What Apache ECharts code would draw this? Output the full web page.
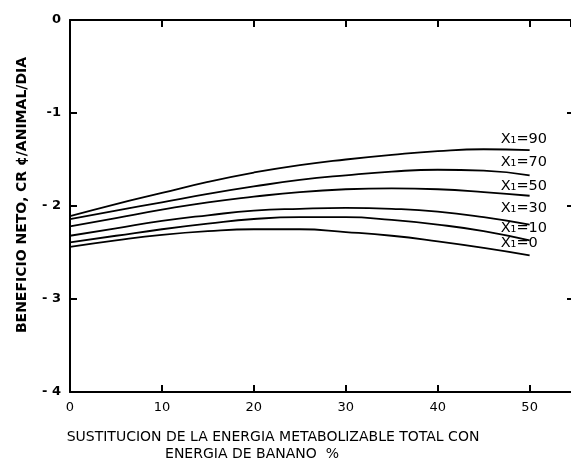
<!DOCTYPE html>
<html>
<head>
<meta charset="utf-8">
<script src="https://cdn.jsdelivr.net/npm/echarts@6/dist/echarts.min.js"></script>
<style>html,body{margin:0;padding:0;background:#fff;}#c{width:571px;height:459px;}</style>
</head>
<body>
<div id="c"></div>
<script>
// Substitution of total metabolizable energy with banana energy (%)
const xPct = [0, 5, 10, 15, 20, 25, 30, 35, 40, 45, 50];
// Net benefit, CR ¢/animal/day for each X1 level
const x1_90 = [-2.11, -1.98, -1.86, -1.74, -1.64, -1.56, -1.50, -1.45, -1.41, -1.39, -1.40];
const x1_70 = [-2.14, -2.05, -1.96, -1.87, -1.79, -1.72, -1.67, -1.63, -1.61, -1.62, -1.67];
const x1_50 = [-2.22, -2.13, -2.04, -1.96, -1.90, -1.85, -1.82, -1.81, -1.82, -1.85, -1.89];
const x1_30 = [-2.32, -2.24, -2.16, -2.10, -2.05, -2.03, -2.02, -2.03, -2.06, -2.12, -2.20];
const x1_10 = [-2.39, -2.32, -2.25, -2.19, -2.14, -2.12, -2.12, -2.15, -2.20, -2.27, -2.37];
const x1_0  = [-2.44, -2.37, -2.31, -2.27, -2.25, -2.25, -2.28, -2.32, -2.38, -2.45, -2.53];
const curveLabels = ['X\u2081=90', 'X\u2081=70', 'X\u2081=50', 'X\u2081=30', 'X\u2081=10', 'X\u2081=0'];
const curveValues = [x1_90, x1_70, x1_50, x1_30, x1_10, x1_0];
const labelDy = [-11, -13, -10, -16, -12, -12];

const xTitle1 = 'SUSTITUCION DE LA ENERGIA METABOLIZABLE TOTAL CON';
const xTitle2 = 'ENERGIA DE BANANO  %';
const yTitle = 'BENEFICIO NETO, CR \u00a2/ANIMAL/DIA';

const chart = echarts.init(document.getElementById('c'));
const font = 'DejaVu Sans, sans-serif';
function axLine(show) { return {show: show, onZero: false, lineStyle: {color: '#000', width: 2}}; }
function tick(len) { return {show: true, inside: true, length: len, lineStyle: {color: '#000', width: 2}}; }

const series = curveValues.map((vals, i) => ({
  type: 'line',
  xAxisIndex: 0,
  yAxisIndex: 0,
  data: xPct.map((x, j) => [x, vals[j]]),
  smooth: true,
  showSymbol: false,
  silent: true,
  lineStyle: {color: '#000', width: 1.8},
  endLabel: {
    show: true,
    formatter: curveLabels[i],
    distance: 0,
    offset: [-29, labelDy[i]],
    align: 'left',
    verticalAlign: 'middle',
    color: '#000',
    fontFamily: font,
    fontSize: 14.5
  }
}));

chart.setOption({
  animation: false,
  backgroundColor: '#fff',
  grid: {left: 70, top: 20, right: 0, height: 372},
  xAxis: [
    {type: 'value', position: 'bottom', min: 0, max: 54.5, interval: 10,
     axisLine: axLine(true), splitLine: {show: false}, axisTick: tick(7),
     axisLabel: {color: '#000', fontFamily: font, fontSize: 13, margin: 9, showMaxLabel: false}},
    {type: 'value', position: 'top', min: 0, max: 54.5, interval: 10,
     axisLine: axLine(true), splitLine: {show: false}, axisTick: tick(7),
     axisLabel: {show: false}}
  ],
  yAxis: [
    {type: 'value', position: 'left', min: -4, max: 0, interval: 1,
     axisLine: axLine(true), splitLine: {show: false}, axisTick: tick(7),
     axisLabel: {color: '#000', fontFamily: font, fontSize: 13, fontWeight: 'bold', margin: 9,
       formatter: v => v === 0 ? '0' : (v === -1 ? '-1' : '- ' + Math.abs(v))}},
    {type: 'value', position: 'right', min: -4, max: 0, interval: 1,
     axisLine: axLine(false), splitLine: {show: false}, axisTick: tick(4),
     axisLabel: {show: false}}
  ],
  graphic: [
    {type: 'text', x: 273, y: 437,
     style: {text: xTitle1, fill: '#000', font: '14px ' + font, textAlign: 'center', textVerticalAlign: 'middle'}},
    {type: 'text', x: 252, y: 454,
     style: {text: xTitle2, fill: '#000', font: '14px ' + font, textAlign: 'center', textVerticalAlign: 'middle'}},
    {type: 'text', x: 22, y: 195, rotation: Math.PI / 2,
     style: {text: yTitle, fill: '#000', font: 'bold 14px ' + font, textAlign: 'center', textVerticalAlign: 'middle'}}
  ],
  series: series
});
</script>
</body>
</html>
